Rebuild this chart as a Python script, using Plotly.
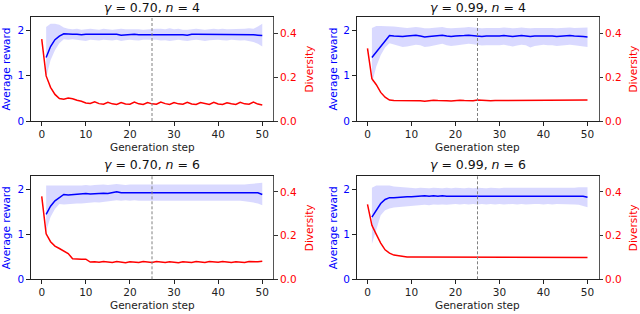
import plotly.graph_objects as go

steps_div = list(range(0, 51))
steps_rew = list(range(1, 51))

titles = ["γ = 0.70, n = 4", "γ = 0.99, n = 4", "γ = 0.70, n = 6", "γ = 0.99, n = 6"]

div_p1 = [0.372, 0.205, 0.153, 0.121, 0.102, 0.099, 0.104, 0.101, 0.094, 0.090, 0.082, 0.080, 0.087, 0.079, 0.076, 0.085, 0.078, 0.075, 0.084, 0.077, 0.076, 0.086, 0.078, 0.075, 0.084, 0.078, 0.076, 0.086, 0.079, 0.075, 0.084, 0.078, 0.076, 0.085, 0.077, 0.075, 0.084, 0.078, 0.075, 0.085, 0.077, 0.075, 0.083, 0.078, 0.075, 0.085, 0.078, 0.076, 0.086, 0.077, 0.073]
rew_p1 = [1.40, 1.64, 1.79, 1.87, 1.92, 1.91, 1.91, 1.91, 1.90, 1.91, 1.91, 1.90, 1.91, 1.91, 1.90, 1.91, 1.91, 1.89, 1.90, 1.90, 1.91, 1.90, 1.90, 1.91, 1.90, 1.91, 1.91, 1.90, 1.91, 1.90, 1.91, 1.90, 1.89, 1.91, 1.91, 1.91, 1.90, 1.91, 1.91, 1.91, 1.90, 1.90, 1.91, 1.91, 1.91, 1.90, 1.91, 1.90, 1.89, 1.88]
up_p1 = [2.07, 2.14, 2.14, 2.12, 2.06, 2.03, 2.02, 2.03, 2.01, 2.02, 2.03, 2.02, 2.01, 2.03, 2.02, 2.01, 2.02, 2.03, 2.02, 2.02, 2.03, 2.02, 2.01, 2.02, 2.02, 2.03, 2.03, 2.02, 2.04, 2.02, 2.03, 2.01, 2.01, 2.02, 2.03, 2.02, 2.01, 2.02, 2.03, 2.02, 2.03, 2.02, 2.02, 2.03, 2.02, 2.03, 2.04, 2.03, 2.08, 2.14]
lo_p1 = [0.96, 1.34, 1.56, 1.71, 1.80, 1.79, 1.80, 1.79, 1.78, 1.76, 1.79, 1.78, 1.77, 1.79, 1.78, 1.77, 1.79, 1.76, 1.78, 1.79, 1.78, 1.77, 1.79, 1.79, 1.78, 1.79, 1.77, 1.78, 1.76, 1.78, 1.79, 1.77, 1.76, 1.78, 1.79, 1.78, 1.76, 1.78, 1.79, 1.79, 1.78, 1.77, 1.79, 1.78, 1.77, 1.78, 1.76, 1.74, 1.70, 1.64]

div_p2 = [0.330, 0.192, 0.165, 0.130, 0.108, 0.095, 0.093, 0.093, 0.094, 0.095, 0.094, 0.093, 0.092, 0.090, 0.093, 0.094, 0.093, 0.094, 0.092, 0.091, 0.093, 0.094, 0.093, 0.092, 0.092, 0.095, 0.093, 0.092, 0.092, 0.093, 0.093, 0.093, 0.092, 0.092, 0.093, 0.093, 0.092, 0.092, 0.093, 0.092, 0.092, 0.093, 0.093, 0.092, 0.092, 0.093, 0.092, 0.093, 0.093, 0.094, 0.095]
rew_p2 = [1.40, 1.52, 1.64, 1.76, 1.88, 1.87, 1.86, 1.86, 1.87, 1.88, 1.89, 1.87, 1.85, 1.86, 1.87, 1.88, 1.89, 1.87, 1.86, 1.87, 1.87, 1.88, 1.89, 1.88, 1.87, 1.86, 1.87, 1.87, 1.86, 1.87, 1.88, 1.87, 1.86, 1.87, 1.88, 1.87, 1.86, 1.87, 1.87, 1.88, 1.87, 1.87, 1.86, 1.87, 1.88, 1.88, 1.87, 1.87, 1.86, 1.85]
up_p2 = [2.05, 2.09, 2.09, 2.09, 2.09, 2.08, 2.07, 2.06, 2.05, 2.06, 2.07, 2.06, 2.04, 2.04, 2.05, 2.06, 2.07, 2.05, 2.04, 2.05, 2.05, 2.06, 2.07, 2.06, 2.05, 2.04, 2.05, 2.05, 2.04, 2.05, 2.06, 2.05, 2.04, 2.05, 2.06, 2.05, 2.04, 2.05, 2.05, 2.06, 2.05, 2.05, 2.04, 2.05, 2.06, 2.06, 2.05, 2.05, 2.05, 2.06]
lo_p2 = [0.82, 1.20, 1.45, 1.62, 1.71, 1.68, 1.66, 1.63, 1.64, 1.66, 1.68, 1.67, 1.63, 1.64, 1.66, 1.69, 1.70, 1.67, 1.65, 1.66, 1.67, 1.69, 1.70, 1.69, 1.67, 1.66, 1.67, 1.67, 1.66, 1.67, 1.68, 1.66, 1.64, 1.66, 1.68, 1.67, 1.62, 1.65, 1.67, 1.68, 1.67, 1.67, 1.65, 1.66, 1.68, 1.68, 1.67, 1.66, 1.64, 1.63]

div_p3 = [0.380, 0.208, 0.172, 0.152, 0.141, 0.131, 0.118, 0.094, 0.092, 0.092, 0.092, 0.079, 0.080, 0.078, 0.082, 0.079, 0.077, 0.081, 0.078, 0.076, 0.080, 0.078, 0.077, 0.081, 0.079, 0.077, 0.081, 0.078, 0.077, 0.080, 0.078, 0.076, 0.080, 0.079, 0.077, 0.081, 0.078, 0.077, 0.081, 0.080, 0.078, 0.082, 0.079, 0.077, 0.080, 0.078, 0.077, 0.081, 0.079, 0.080, 0.083]
rew_p3 = [1.44, 1.62, 1.74, 1.81, 1.88, 1.87, 1.88, 1.89, 1.89, 1.90, 1.89, 1.90, 1.91, 1.91, 1.90, 1.92, 1.94, 1.92, 1.92, 1.92, 1.92, 1.92, 1.91, 1.92, 1.92, 1.92, 1.92, 1.92, 1.92, 1.92, 1.92, 1.92, 1.92, 1.92, 1.91, 1.92, 1.92, 1.92, 1.92, 1.91, 1.91, 1.91, 1.91, 1.91, 1.92, 1.92, 1.92, 1.91, 1.92, 1.88]
up_p3 = [2.08, 2.08, 2.08, 2.08, 2.08, 2.07, 2.08, 2.08, 2.08, 2.09, 2.08, 2.09, 2.10, 2.10, 2.09, 2.10, 2.11, 2.10, 2.09, 2.10, 2.10, 2.09, 2.09, 2.10, 2.10, 2.10, 2.09, 2.10, 2.10, 2.09, 2.10, 2.09, 2.10, 2.10, 2.09, 2.10, 2.10, 2.09, 2.10, 2.09, 2.09, 2.10, 2.10, 2.09, 2.10, 2.10, 2.11, 2.12, 2.13, 2.14]
lo_p3 = [1.07, 1.38, 1.56, 1.67, 1.66, 1.67, 1.67, 1.68, 1.68, 1.69, 1.70, 1.71, 1.70, 1.71, 1.72, 1.73, 1.75, 1.74, 1.75, 1.74, 1.75, 1.74, 1.74, 1.75, 1.74, 1.75, 1.74, 1.75, 1.75, 1.74, 1.75, 1.75, 1.74, 1.75, 1.74, 1.75, 1.74, 1.74, 1.75, 1.74, 1.74, 1.75, 1.74, 1.75, 1.74, 1.73, 1.72, 1.70, 1.68, 1.64]

div_p4 = [0.343, 0.247, 0.206, 0.166, 0.135, 0.120, 0.111, 0.107, 0.103, 0.102, 0.102, 0.102, 0.102, 0.102, 0.102, 0.102, 0.102, 0.102, 0.102, 0.102, 0.102, 0.102, 0.102, 0.102, 0.102, 0.102, 0.102, 0.102, 0.102, 0.102, 0.102, 0.102, 0.102, 0.102, 0.102, 0.102, 0.102, 0.102, 0.102, 0.102, 0.102, 0.102, 0.102, 0.101, 0.101, 0.101, 0.101, 0.101, 0.101, 0.101, 0.100]
rew_p4 = [1.38, 1.54, 1.68, 1.77, 1.81, 1.81, 1.82, 1.82, 1.83, 1.83, 1.84, 1.84, 1.85, 1.84, 1.85, 1.84, 1.85, 1.84, 1.84, 1.85, 1.85, 1.84, 1.85, 1.85, 1.85, 1.84, 1.85, 1.85, 1.85, 1.85, 1.85, 1.85, 1.85, 1.85, 1.85, 1.85, 1.85, 1.85, 1.85, 1.85, 1.85, 1.85, 1.85, 1.85, 1.85, 1.85, 1.85, 1.84, 1.84, 1.82]
up_p4 = [2.03, 2.08, 2.08, 2.08, 2.08, 2.06, 2.05, 2.04, 2.04, 2.03, 2.02, 2.03, 2.02, 2.02, 2.03, 2.02, 2.02, 2.03, 2.02, 2.03, 2.02, 2.02, 2.03, 2.02, 2.03, 2.02, 2.02, 2.03, 2.02, 2.02, 2.03, 2.03, 2.02, 2.02, 2.03, 2.02, 2.03, 2.02, 2.03, 2.03, 2.02, 2.03, 2.03, 2.03, 2.03, 2.03, 2.03, 2.04, 2.04, 2.04]
lo_p4 = [0.78, 1.12, 1.42, 1.53, 1.57, 1.59, 1.60, 1.60, 1.61, 1.62, 1.63, 1.64, 1.65, 1.64, 1.66, 1.65, 1.66, 1.65, 1.66, 1.67, 1.66, 1.67, 1.66, 1.67, 1.66, 1.67, 1.66, 1.67, 1.66, 1.67, 1.66, 1.67, 1.67, 1.66, 1.67, 1.66, 1.67, 1.67, 1.67, 1.66, 1.67, 1.66, 1.67, 1.67, 1.67, 1.66, 1.66, 1.65, 1.63, 1.60]

panels = [
    (div_p1, rew_p1, up_p1, lo_p1),
    (div_p2, rew_p2, up_p2, lo_p2),
    (div_p3, rew_p3, up_p3, lo_p3),
    (div_p4, rew_p4, up_p4, lo_p4),
]
x_ticks = [0, 10, 20, 30, 40, 50]
left_ticks = [0, 1, 2]
right_ticks = [0.0, 0.2, 0.4]
right_labels = ["0.0", "0.2", "0.4"]
marker_step = 25

W, H = 640, 314
FONT = "DejaVu Sans"
BLUE = "#0000ff"
RED = "#ff0000"

xpix = [(30.7, 273.3), (356.5, 598.5), (30.7, 273.3), (356.5, 598.5)]
ypix = [(17.0, 121.0), (17.0, 121.0), (176.0, 279.3), (176.0, 279.3)]
left_title_x = [5.5, 332.5, 5.5, 332.5]
right_title_x = [308.5, 632.5, 308.5, 632.5]


def ax_name(prefix, n):
    return prefix if n == 1 else f"{prefix}{n}"


fig = go.Figure()
layout = dict(
    width=W, height=H, margin=dict(l=0, r=0, t=0, b=0, autoexpand=False),
    paper_bgcolor="white", plot_bgcolor="white", showlegend=False,
    font=dict(family=FONT, size=10.5, color="black"),
)
annotations = []
shapes = []
for i, (div, rew, up, lo) in enumerate(panels):
    xa = ax_name("x", i + 1)
    ya_l = ax_name("y", 2 * i + 1)
    ya_r = ax_name("y", 2 * i + 2)
    fig.add_trace(go.Scatter(x=steps_rew, y=up, mode="lines", line=dict(width=0),
                             xaxis=xa, yaxis=ya_l, hoverinfo="skip"))
    fig.add_trace(go.Scatter(x=steps_rew, y=lo, mode="lines", line=dict(width=0),
                             fill="tonexty", fillcolor="rgba(0,0,255,0.15)",
                             xaxis=xa, yaxis=ya_l, hoverinfo="skip"))
    fig.add_trace(go.Scatter(x=steps_rew, y=rew, mode="lines", line=dict(color=BLUE, width=1.5),
                             xaxis=xa, yaxis=ya_l))
    fig.add_trace(go.Scatter(x=steps_div, y=div, mode="lines", line=dict(color=RED, width=1.5),
                             xaxis=xa, yaxis=ya_r))

    x0, x1 = xpix[i]
    yt, yb = ypix[i]
    xd = [x0 / W, x1 / W]
    yd = [1 - yb / H, 1 - yt / H]
    xkey = "xaxis" if i == 0 else f"xaxis{i+1}"
    ylkey = "yaxis" if i == 0 else f"yaxis{2*i+1}"
    yrkey = f"yaxis{2*i+2}"
    layout[xkey] = dict(domain=xd, anchor=ya_l, range=[-2.5, 52.5], tickvals=x_ticks,
                        showline=True, mirror=True, linecolor="#222", linewidth=1,
                        ticks="outside", ticklen=3.5, tickwidth=0.8, tickcolor="#222",
                        showgrid=False, zeroline=False, tickfont=dict(size=10.5, color="#222"))
    layout[ylkey] = dict(domain=yd, anchor=xa, range=[0, 2.29], tickvals=left_ticks,
                         showline=True, linecolor="#222", linewidth=1,
                         ticks="outside", ticklen=3.5, tickwidth=0.8, tickcolor="#222",
                         showgrid=False, zeroline=False, tickfont=dict(size=10.5, color=BLUE))
    layout[yrkey] = dict(overlaying=ya_l, anchor=xa, side="right", range=[0, 0.473],
                         tickvals=right_ticks, ticktext=right_labels,
                         showline=True, linecolor="#555", linewidth=1,
                         ticks="outside", ticklen=3.5, tickwidth=0.8, tickcolor="#333",
                         showgrid=False, zeroline=False, tickfont=dict(size=10.5, color=RED))
    shapes.append(dict(type="line", xref=xa, yref=f"{ya_l} domain", x0=marker_step, x1=marker_step,
                       y0=0, y1=1, line=dict(color="#808080", width=1, dash="3px,2px")))
    cx = (x0 + x1) / 2 / W
    annotations.append(dict(text=titles[i].replace("γ", "<i>γ</i>").replace("n =", "<i>n</i> ="),
                            x=cx, y=1 - 7.5 / H if yt < 100 else 1 - 164.5 / H,
                            xref="paper", yref="paper",
                            showarrow=False, font=dict(size=12.5, color="#111"),
                            xanchor="center", yanchor="middle"))
    annotations.append(dict(text="Generation step", x=cx, y=1 - (yb + 26.0) / H,
                            xref="paper", yref="paper", showarrow=False,
                            font=dict(size=10.5, color="#222"), xanchor="center", yanchor="middle"))
    cy = 1 - (yt + yb) / 2 / H
    annotations.append(dict(text="Average reward", x=left_title_x[i] / W, y=cy, textangle=-90,
                            xref="paper", yref="paper", showarrow=False, borderpad=0,
                            font=dict(size=10.5, color=BLUE), xanchor="center", yanchor="middle"))
    annotations.append(dict(text="Diversity", x=right_title_x[i] / W, y=cy, textangle=-90,
                            xref="paper", yref="paper", showarrow=False, borderpad=0,
                            font=dict(size=10.5, color=RED), xanchor="center", yanchor="middle"))

layout["annotations"] = annotations
layout["shapes"] = shapes
fig.update_layout(**layout)
fig.write_html(
    "out.html",
    config={"displayModeBar": False},
    post_script="document.body.style.margin='0px';document.body.style.overflow='hidden';",
)
